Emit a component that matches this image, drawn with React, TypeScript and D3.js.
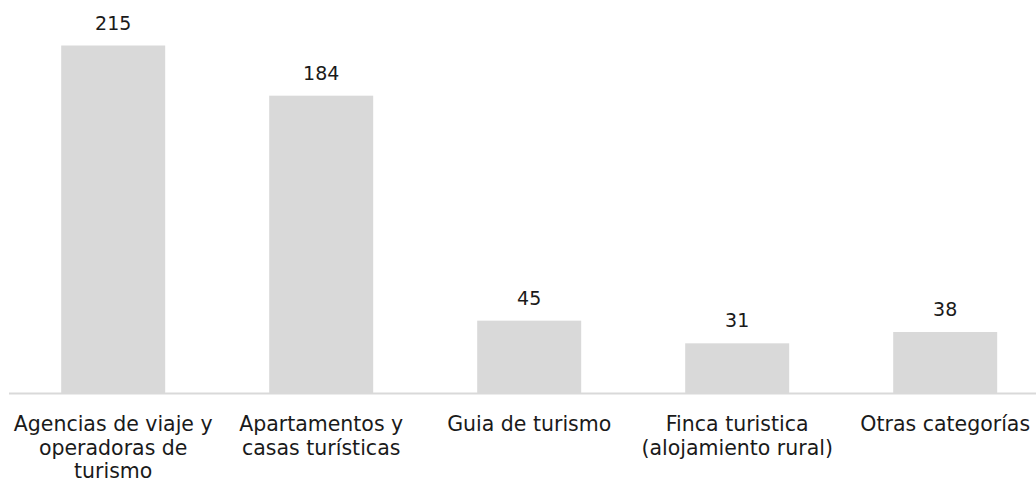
import React from "react";
import * as d3 from "d3";

const categories: string[][] = [
  ["Agencias de viaje y", "operadoras de", "turismo"],
  ["Apartamentos y", "casas turísticas"],
  ["Guia de turismo"],
  ["Finca turistica", "(alojamiento rural)"],
  ["Otras categorías"],
];
const values: number[] = [215, 184, 45, 31, 38];

const W = 1036;
const H = 483;

export default function App() {
  const baseline = 393.5;
  const x = d3
    .scaleBand<number>()
    .domain(values.map((_, i) => i))
    .range([9.2, 9.2 + 208 * 5])
    .paddingInner(0.5)
    .paddingOuter(0.25);
  const y = d3.scaleLinear().domain([0, 215]).range([baseline, 45.5]);
  const font = "'DejaVu Sans', sans-serif";
  return (
    <svg
      width={W}
      height={H}
      style={{ position: "absolute", left: 0, top: 0, background: "#fff" }}
    >
      {values.map((v, i) => (
        <rect
          key={"b" + i}
          x={x(i)}
          y={y(v)}
          width={x.bandwidth()}
          height={baseline - y(v)}
          fill="#d9d9d9"
        />
      ))}
      <line x1={9} x2={1049} y1={baseline} y2={baseline} stroke="#d9d9d9" strokeWidth={2} />
      {values.map((v, i) => (
        <text
          key={"v" + i}
          x={(x(i) as number) + x.bandwidth() / 2}
          y={y(v) - 16}
          textAnchor="middle"
          fontFamily={font}
          fontSize={19}
          fill="#1a1a1a"
        >
          {v}
        </text>
      ))}
      {categories.map((lines, i) => (
        <text
          key={"c" + i}
          textAnchor="middle"
          fontFamily={font}
          fontSize={20.5}
          fill="#1a1a1a"
        >
          {lines.map((l, j) => (
            <tspan key={j} x={(x(i) as number) + x.bandwidth() / 2} y={431 + j * 23.5}>
              {l}
            </tspan>
          ))}
        </text>
      ))}
    </svg>
  );
}
